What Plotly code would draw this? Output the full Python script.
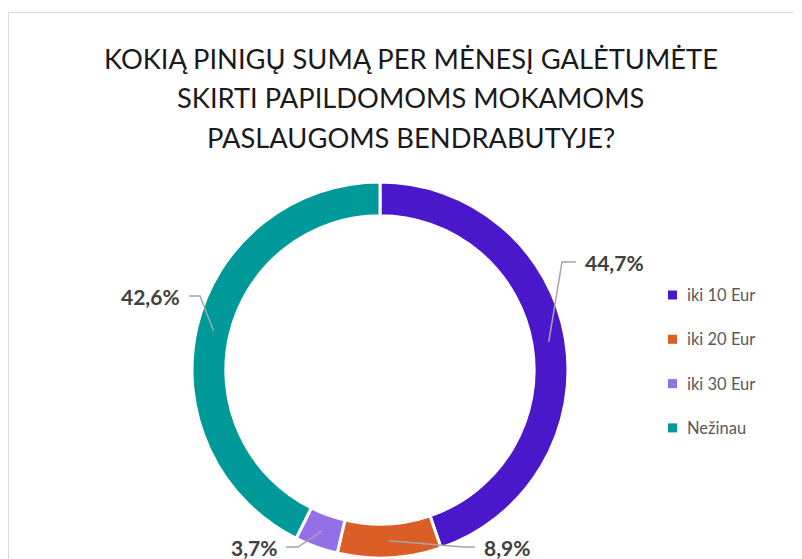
import math
import plotly.graph_objects as go

categories = ["iki 10 Eur", "iki 20 Eur", "iki 30 Eur", "Nežinau"]
values = [44.7, 8.9, 3.7, 42.6]
colors = ["#4A17CB", "#DB5E26", "#9370E8", "#009999"]
title_lines = ["KOKIĄ PINIGŲ SUMĄ PER MĖNESĮ GALĖTUMĖTE",
               "SKIRTI PAPILDOMOMS MOKAMOMS",
               "PASLAUGOMS BENDRABUTYJE?"]

W, H = 802, 559
OFF = 8  # page body margin offset
CX, CY, R = 380, 370, 188
HOLE = 0.82

def px(x):
    return (x - OFF) / W

def py(y):
    return 1 - (y - OFF) / H

fig = go.Figure()
fig.add_trace(go.Pie(
    labels=categories, values=values, sort=False, direction="clockwise",
    rotation=0, hole=HOLE, textinfo="none", hoverinfo="label+percent",
    marker=dict(colors=colors, line=dict(color="white", width=3)),
    domain=dict(x=[px(CX - R), px(CX + R)], y=[py(CY + R), py(CY - R)]),
    showlegend=False,
))

# label placement (pixel positions of text anchor and elbow)
label_pos = [  # (text x, text y, xanchor, elbow x)
    (583, 262, "left", 562),
    (482, 547, "left", 463),
    (279, 547, "right", 298),
    (182, 296, "right", 200),
]

shapes = []
annotations = []
total = sum(values)
cum = 0.0
r_mid = R * (1 + HOLE) / 2
for v, (tx, ty, xa, ex) in zip(values, label_pos):
    mid = (cum + v / 2) / total * 2 * math.pi
    cum += v
    sx = CX + r_mid * math.sin(mid)
    sy = CY - r_mid * math.cos(mid)
    hx = tx - 7 if xa == "left" else tx + 7
    shapes.append(dict(type="path", xref="paper", yref="paper",
                       path=f"M {px(sx)} {py(sy)} L {px(ex)} {py(ty)} L {px(hx)} {py(ty)}",
                       line=dict(color="#A6A6A6", width=1.5)))
    annotations.append(dict(x=px(tx), y=py(ty), xref="paper", yref="paper",
                            text=f"<b>{v:.1f}%</b>".replace(".", ","),
                            showarrow=False, xanchor=xa, yanchor="middle",
                            font=dict(family="Lato", size=21, color="#404040")))

# legend
for i, (c, name) in enumerate(zip(categories, colors)):
    yy = 295 + i * 44.3
    shapes.append(dict(type="rect", xref="paper", yref="paper",
                       x0=px(668), x1=px(677), y0=py(yy + 4.5), y1=py(yy - 4.5),
                       fillcolor=name, line=dict(width=0)))
    annotations.append(dict(x=px(685), y=py(yy), xref="paper", yref="paper",
                            text=c, showarrow=False, xanchor="left", yanchor="middle",
                            font=dict(family="Lato", size=16.5, color="#595959")))

# title
for i, t in enumerate(title_lines):
    annotations.append(dict(x=px(411), y=py(58 + i * 40), xref="paper", yref="paper",
                            text=t, showarrow=False, xanchor="center", yanchor="middle",
                            font=dict(family="Lato", size=27.3, color="#1A1A1A")))

# chart frame
shapes.append(dict(type="rect", xref="paper", yref="paper",
                   x0=0.5 / W, x1=px(820), y0=py(580), y1=py(12.5),
                   line=dict(color="#D9D9D9", width=1), fillcolor="rgba(0,0,0,0)"))

fig.update_layout(width=W, height=H, margin=dict(l=0, r=0, t=0, b=0),
                  paper_bgcolor="white", plot_bgcolor="white",
                  shapes=shapes, annotations=annotations)
fig.write_html("out.html")
